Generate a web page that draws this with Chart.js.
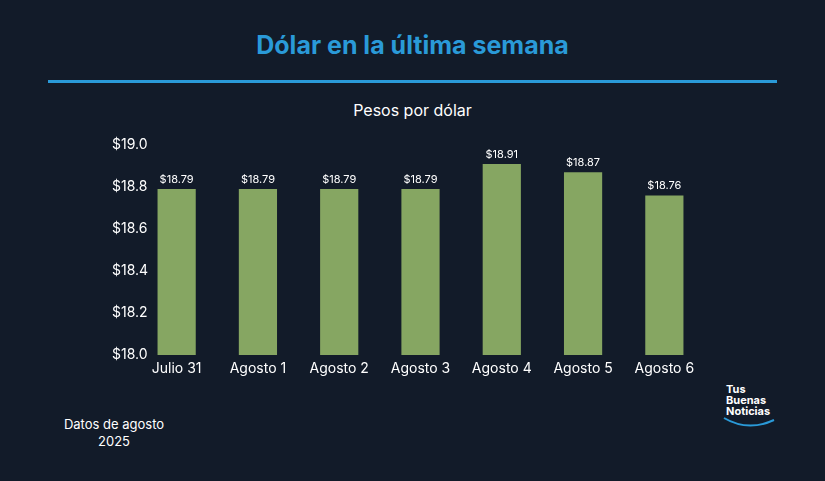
<!DOCTYPE html>
<html><head><meta charset="utf-8">
<script src="https://cdn.jsdelivr.net/npm/chart.js@4"></script>
<style>
html,body{margin:0;padding:0;background:#121b29;width:825px;height:481px;overflow:hidden;font-family:Inter,"Open Sans",sans-serif;}
#t{position:absolute;left:0;width:825px;top:30px;text-align:center;color:#2a9ad8;font-size:25px;font-weight:700;}
#hr{position:absolute;left:48px;width:729px;top:80px;height:3px;background:#2a9ad8;}
#s{position:absolute;left:0;width:825px;top:100px;text-align:center;color:#fff;font-size:16px;}
#f{position:absolute;left:52px;width:124px;top:416px;text-align:center;color:#fff;font-size:13px;line-height:17px;}
#logo{position:absolute;left:726px;top:384px;color:#fff;font-size:11px;font-weight:700;line-height:11px;}
canvas{position:absolute;left:0;top:0;}
</style></head><body>
<div id="t">Dólar en la última semana</div>
<div id="hr"></div>
<div id="s">Pesos por dólar</div>
<div id="f">Datos de agosto<br>2025</div>
<div id="logo">Tus<br>Buenas<br>Noticias
<svg width="56" height="14" style="position:absolute;left:-4px;top:32px"><path d="M2 2 Q26 16 52 4" stroke="#2a9ad8" stroke-width="2" fill="none"/></svg></div>
<canvas id="c" width="825" height="481"></canvas>
<script>
const categories=["Julio 31","Agosto 1","Agosto 2","Agosto 3","Agosto 4","Agosto 5","Agosto 6"];
const values=[18.79,18.79,18.79,18.79,18.91,18.87,18.76];
const yTicks=[18.0,18.2,18.4,18.6,18.8,19.0];
const labelPlugin={id:'lbl',afterDatasetsDraw(ch){const ctx=ch.ctx;const m=ch.getDatasetMeta(0);ctx.save();ctx.fillStyle='#fff';ctx.font='11px Inter, sans-serif';ctx.textAlign='center';ctx.textBaseline='bottom';m.data.forEach((b,i)=>ctx.fillText('$'+values[i].toFixed(2),b.x,b.y-4));ctx.restore();}};
new Chart(document.getElementById('c'),{type:'bar',
data:{labels:categories,datasets:[{data:values,backgroundColor:'#86a662',barPercentage:0.94,categoryPercentage:0.5}]},
options:{responsive:false,animation:false,layout:{padding:{left:0,top:145,right:120,bottom:96}},
plugins:{legend:{display:false},tooltip:{enabled:false}},
scales:{x:{grid:{display:false},border:{display:false},ticks:{color:'#fff',font:{size:14,family:'Inter'},padding:-3},afterFit(s){s.height=30;}},
y:{min:18,max:19,grid:{display:false},border:{display:false},afterFit(s){s.width=136;},afterBuildTicks(s){s.ticks=yTicks.map(v=>({value:v}));},
ticks:{mirror:true,color:'#fff',padding:-24,font:{size:14,family:'Inter'},callback:v=>'$'+v.toFixed(1)}}}},
plugins:[labelPlugin]});
</script></body></html>
